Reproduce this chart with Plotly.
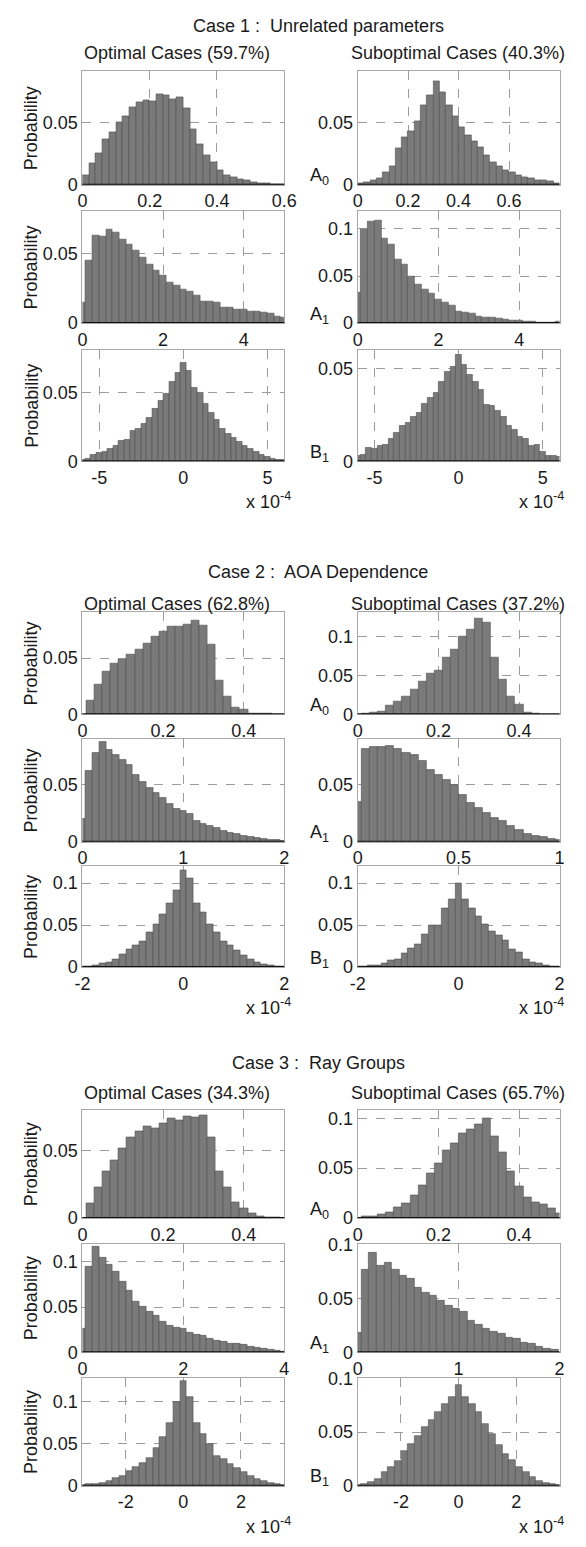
import plotly.graph_objects as go

W, H = 586, 1547

# ---------------- data ----------------
case_titles = ["Case 1 :\u00a0 Unrelated parameters",
               "Case 2 :\u00a0 AOA Dependence",
               "Case 3 :\u00a0 Ray Groups"]
col_titles = [["Optimal Cases (59.7%)", "Suboptimal Cases (40.3%)"],
              ["Optimal Cases (62.8%)", "Suboptimal Cases (37.2%)"],
              ["Optimal Cases (34.3%)", "Suboptimal Cases (65.7%)"]]
param_labels = ["A<sub>0</sub>", "A<sub>1</sub>", "B<sub>1</sub>"]
y_label = "Probability"
scale_label = "x 10<sup>-4</sup>"

# Case 1
c1_opt_a0 = [0.008, 0.0176, 0.0255, 0.0367, 0.042, 0.050, 0.055, 0.0625, 0.066, 0.068,
             0.067, 0.0726, 0.072, 0.0686, 0.070, 0.061, 0.0447, 0.0327, 0.0234, 0.018,
             0.012, 0.0074, 0.006, 0.0048, 0.0035, 0.0024, 0.0016, 0.0013, 0.0008, 0.0005]
c1_sub_a0 = [0.001, 0.002, 0.004, 0.0055, 0.010, 0.015, 0.029, 0.038, 0.043, 0.051,
             0.064, 0.072, 0.083, 0.074, 0.064, 0.055, 0.046, 0.040, 0.035, 0.030,
             0.024, 0.018, 0.015, 0.012, 0.010, 0.008, 0.006, 0.005, 0.004, 0.004,
             0.003, 0.0015]
c1_opt_a1 = [0.015, 0.045, 0.063, 0.062, 0.067, 0.065, 0.060, 0.056, 0.052, 0.047,
             0.042, 0.038, 0.034, 0.029, 0.027, 0.024, 0.0225, 0.020, 0.0155, 0.0155,
             0.015, 0.0114, 0.0114, 0.010, 0.0097, 0.008, 0.0083, 0.0078, 0.0066, 0.005,
             0.0043]
c1_sub_a1 = [0.033, 0.100, 0.108, 0.109, 0.0895, 0.0835, 0.068, 0.0625, 0.050, 0.041,
             0.036, 0.032, 0.0256, 0.022, 0.0186, 0.0123, 0.011, 0.0098, 0.0074, 0.0063,
             0.0056, 0.0046, 0.0039, 0.0032, 0.0025, 0.002, 0.002, 0.001, 0.0008, 0.001,
             0.0014]
c1_opt_b1 = [0.0015, 0.002, 0.005, 0.006, 0.007, 0.009, 0.011, 0.015, 0.0156, 0.022,
             0.024, 0.027, 0.0315, 0.038, 0.044, 0.049, 0.058, 0.064, 0.0716, 0.0656,
             0.0536, 0.050, 0.0416, 0.0356, 0.030, 0.024, 0.020, 0.017, 0.014, 0.011,
             0.009, 0.0067, 0.0045, 0.003, 0.002, 0.0015, 0.0015]
c1_sub_b1 = [0.003, 0.0035, 0.0074, 0.0066, 0.0085, 0.009, 0.0124, 0.0152, 0.019, 0.021,
             0.024, 0.026, 0.031, 0.034, 0.037, 0.043, 0.048, 0.051, 0.0574, 0.0518,
             0.0465, 0.043, 0.0385, 0.0306, 0.030, 0.027, 0.024, 0.019, 0.017, 0.013,
             0.012, 0.0083, 0.009, 0.005, 0.003, 0.0028, 0.0025]
# Case 2
c2_opt_a0 = [0.012, 0.0266, 0.038, 0.0453, 0.049, 0.0535, 0.0573, 0.0629, 0.0696, 0.074,
             0.0784, 0.0778, 0.0798, 0.0833, 0.0792, 0.0617, 0.030, 0.0155, 0.006, 0.0038,
             0.001, 0.0006, 0.0006]
c2_sub_a0 = [0.0005, 0.002, 0.0038, 0.011, 0.017, 0.0225, 0.032, 0.0428, 0.052, 0.056,
             0.073, 0.083, 0.0996, 0.109, 0.123, 0.118, 0.073, 0.0445, 0.0225, 0.0127,
             0.0025, 0.0008]
c2_opt_a1 = [0.0197, 0.0616, 0.0775, 0.0876, 0.0804, 0.076, 0.0717, 0.0674, 0.0587, 0.052,
             0.0475, 0.043, 0.0385, 0.0327, 0.029, 0.027, 0.024, 0.018, 0.0153, 0.014,
             0.0116, 0.0095, 0.008, 0.0066, 0.0052, 0.004, 0.003, 0.0023, 0.0018, 0.0015,
             0.001]
c2_sub_a1 = [0.035, 0.081, 0.0827, 0.0833, 0.0839, 0.081, 0.0775, 0.0758, 0.0703, 0.063,
             0.0587, 0.0544, 0.050, 0.041, 0.034, 0.0298, 0.0254, 0.021, 0.018, 0.0139,
             0.0104, 0.0072, 0.0052, 0.0038, 0.0023, 0.0014]
c2_opt_b1 = [0.0008, 0.0012, 0.002, 0.0039, 0.0059, 0.0098, 0.0157, 0.0216, 0.0255, 0.031,
             0.041, 0.051, 0.0627, 0.0765, 0.091, 0.1149, 0.1059, 0.0765, 0.0647, 0.051,
             0.041, 0.031, 0.0255, 0.0196, 0.0137, 0.0098, 0.0059, 0.0031, 0.002, 0.0012,
             0.0008]
c2_sub_b1 = [0.0008, 0.0012, 0.002, 0.0024, 0.0039, 0.0078, 0.0098, 0.0165, 0.0224, 0.0275,
             0.039, 0.050, 0.050, 0.0694, 0.0804, 0.100, 0.0804, 0.0694, 0.0608, 0.051,
             0.0424, 0.038, 0.0314, 0.0216, 0.0176, 0.0098, 0.0059, 0.0039, 0.002, 0.0012,
             0.0008]
# Case 3
c3_opt_a0 = [0.0112, 0.0226, 0.0347, 0.0425, 0.0512, 0.0595, 0.0638, 0.0675, 0.0663, 0.070,
             0.074, 0.072, 0.0748, 0.0745, 0.076, 0.0595, 0.0347, 0.0226, 0.0117, 0.0068,
             0.0032, 0.0012, 0.0007, 0.0005]
c3_sub_a0 = [0.0016, 0.002, 0.0033, 0.006, 0.0102, 0.0148, 0.0227, 0.0332, 0.045, 0.0546,
             0.0674, 0.075, 0.0849, 0.0888, 0.0938, 0.1003, 0.0816, 0.0661, 0.047, 0.0322,
             0.0207, 0.0158, 0.0141, 0.0092, 0.0043]
c3_opt_a1 = [0.026, 0.095, 0.117, 0.104, 0.097, 0.089, 0.078, 0.068, 0.0555, 0.050,
             0.0446, 0.041, 0.0336, 0.029, 0.0274, 0.026, 0.0212, 0.020, 0.0183, 0.0153,
             0.0128, 0.0117, 0.0099, 0.0091, 0.008, 0.0066, 0.0055, 0.0044, 0.0029, 0.0018,
             0.0012]
c3_sub_a1 = [0.0184, 0.0766, 0.092, 0.0798, 0.0828, 0.0761, 0.0706, 0.068, 0.0595, 0.0552,
             0.0521, 0.0475, 0.043, 0.0405, 0.0374, 0.0291, 0.026, 0.0215, 0.019, 0.0169,
             0.0138, 0.0123, 0.0092, 0.0077, 0.0055, 0.0038, 0.002]
c3_opt_b1 = [0.0012, 0.0016, 0.002, 0.0031, 0.0059, 0.009, 0.0118, 0.0176, 0.0216, 0.0275,
             0.0333, 0.045, 0.058, 0.0745, 0.100, 0.124, 0.106, 0.0745, 0.061, 0.049,
             0.0353, 0.0314, 0.0255, 0.0208, 0.0157, 0.0118, 0.0078, 0.0059, 0.0031, 0.002,
             0.0012]
c3_sub_b1 = [0.001, 0.0016, 0.0038, 0.0063, 0.0125, 0.0172, 0.0234, 0.032, 0.039, 0.0463,
             0.0547, 0.061, 0.069, 0.0766, 0.083, 0.0938, 0.083, 0.076, 0.069, 0.058,
             0.048, 0.0375, 0.0297, 0.024, 0.0172, 0.0125, 0.0078, 0.004, 0.0025, 0.0016,
             0.001]

# bins: (first bin centre, bin width)
bins = {
    "c1_opt_a0": (0.01, 0.02), "c1_sub_a0": (0.0125, 0.025),
    "c1_opt_a1": (0.0, 1/6), "c1_sub_a1": (0.0, 1/6),
    "c1_opt_b1": (-6.0, 1/3), "c1_sub_b1": (-6.0, 1/3),
    "c2_opt_a0": (0.02, 0.02), "c2_sub_a0": (0.02, 0.02),
    "c2_opt_a1": (0.0, 1/15), "c2_sub_a1": (0.0, 0.04),
    "c2_opt_b1": (-2.0, 2/15), "c2_sub_b1": (-2.0, 2/15),
    "c3_opt_a0": (0.02, 0.02), "c3_sub_a0": (0.02, 0.02),
    "c3_opt_a1": (0.0, 2/15), "c3_sub_a1": (0.0, 0.075),
    "c3_opt_b1": (-3.5, 7/30), "c3_sub_b1": (-3.5, 7/30),
}
series = {
    "c1_opt_a0": c1_opt_a0, "c1_sub_a0": c1_sub_a0, "c1_opt_a1": c1_opt_a1,
    "c1_sub_a1": c1_sub_a1, "c1_opt_b1": c1_opt_b1, "c1_sub_b1": c1_sub_b1,
    "c2_opt_a0": c2_opt_a0, "c2_sub_a0": c2_sub_a0, "c2_opt_a1": c2_opt_a1,
    "c2_sub_a1": c2_sub_a1, "c2_opt_b1": c2_opt_b1, "c2_sub_b1": c2_sub_b1,
    "c3_opt_a0": c3_opt_a0, "c3_sub_a0": c3_sub_a0, "c3_opt_a1": c3_opt_a1,
    "c3_sub_a1": c3_sub_a1, "c3_opt_b1": c3_opt_b1, "c3_sub_b1": c3_sub_b1,
}
# axis ranges and ticks per panel
x_ranges = {
    "c1_opt_a0": [0, 0.6], "c1_sub_a0": [0, 0.8], "c1_opt_a1": [0, 5], "c1_sub_a1": [0, 5],
    "c1_opt_b1": [-6, 6], "c1_sub_b1": [-6, 6],
    "c2_opt_a0": [0, 0.5], "c2_sub_a0": [0, 0.5], "c2_opt_a1": [0, 2], "c2_sub_a1": [0, 1],
    "c2_opt_b1": [-2, 2], "c2_sub_b1": [-2, 2],
    "c3_opt_a0": [0, 0.5], "c3_sub_a0": [0, 0.5], "c3_opt_a1": [0, 4], "c3_sub_a1": [0, 2],
    "c3_opt_b1": [-3.5, 3.5], "c3_sub_b1": [-3.5, 3.5],
}
x_ticks = {
    "c1_opt_a0": [0, 0.2, 0.4, 0.6], "c1_sub_a0": [0, 0.2, 0.4, 0.6],
    "c1_opt_a1": [0, 2, 4], "c1_sub_a1": [0, 2, 4],
    "c1_opt_b1": [-5, 0, 5], "c1_sub_b1": [-5, 0, 5],
    "c2_opt_a0": [0, 0.2, 0.4], "c2_sub_a0": [0, 0.2, 0.4],
    "c2_opt_a1": [0, 1, 2], "c2_sub_a1": [0, 0.5, 1],
    "c2_opt_b1": [-2, 0, 2], "c2_sub_b1": [-2, 0, 2],
    "c3_opt_a0": [0, 0.2, 0.4], "c3_sub_a0": [0, 0.2, 0.4],
    "c3_opt_a1": [0, 2, 4], "c3_sub_a1": [0, 1, 2],
    "c3_opt_b1": [-2, 0, 2], "c3_sub_b1": [-2, 0, 2],
}
y_max = {
    "c1_opt_a0": 0.091, "c1_sub_a0": 0.091, "c1_opt_a1": 0.080, "c1_sub_a1": 0.1186,
    "c1_opt_b1": 0.081, "c1_sub_b1": 0.060,
    "c2_opt_a0": 0.0906, "c2_sub_a0": 0.131, "c2_opt_a1": 0.090, "c2_sub_a1": 0.090,
    "c2_opt_b1": 0.120, "c2_sub_b1": 0.120,
    "c3_opt_a0": 0.0796, "c3_sub_a0": 0.108, "c3_opt_a1": 0.120, "c3_sub_a1": 0.1005,
    "c3_opt_b1": 0.128, "c3_sub_b1": 0.1005,
}
y_tick_vals = [0, 0.05, 0.1]
y_tick_text = ["0", "0.05", "0.1"]

# ---------------- layout geometry (pixels) ----------------
col_px = [(77, 286), (362, 571)]
row_px = [[(63, 178), (205, 318), (345, 458)],
          [(611, 714), (739, 843), (868, 970)],
          [(1115, 1224), (1250, 1360), (1386, 1495)]]
case_title_y = [17, 570, 1067]
col_title_y = [45, 602, 1097]

FONT = "Liberation Sans, Arial, sans-serif"
TXT = "#1a1a1a"
BAR = "#7a7a7a"
EDGE = "#4e4e4e"
GRID = "#9c9c9c"
FRAME = "#a8a8a8"

def px_x(v):
    return v / W

def px_y(v):
    return 1 - v / H

def fmt(v):
    s = ("%g" % v)
    return s

fig = go.Figure()
layout = dict(
    width=W, height=H, margin=dict(l=0, r=0, t=0, b=0),
    paper_bgcolor="white", plot_bgcolor="white", showlegend=False,
    font=dict(family=FONT, size=18, color=TXT),
)
annotations = []
shapes = []
params = ["a0", "a1", "b1"]
cols = ["opt", "sub"]

idx = 0
for c in range(3):
    for r in range(3):
        for k in range(2):
            idx += 1
            key = "c%d_%s_%s" % (c + 1, cols[k], params[r])
            vals = series[key]
            x0, w = bins[key]
            xs = [x0 + i * w for i in range(len(vals))]
            xa = "x" if idx == 1 else "x%d" % idx
            ya = "y" if idx == 1 else "y%d" % idx
            fig.add_trace(go.Bar(
                x=xs, y=vals, width=w, xaxis=xa, yaxis=ya,
                marker=dict(color=BAR, line=dict(color=EDGE, width=0.6)),
                hoverinfo="skip",
            ))
            xl, xr = col_px[k]
            yt, yb = row_px[c][r]
            xr_rng = x_ranges[key]
            span = xr_rng[1] - xr_rng[0]
            ymx = y_max[key]
            tv = [t for t in y_tick_vals if t <= ymx + 1e-9]
            tt = y_tick_text[:len(tv)]
            xt = x_ticks[key]
            layout["xaxis" if idx == 1 else "xaxis%d" % idx] = dict(
                domain=[px_x(xl), px_x(xr)], anchor=ya,
                range=[xr_rng[0] - span * 1e-4, xr_rng[1] + span * 1e-4],
                tickvals=xt, ticktext=[fmt(t) for t in xt],
                showgrid=True, gridcolor=GRID, griddash="dash", gridwidth=1,
                showline=True, linecolor=FRAME, linewidth=1, mirror=True,
                zeroline=False, ticks="", tickfont=dict(size=18, color=TXT),
            )
            layout["yaxis" if idx == 1 else "yaxis%d" % idx] = dict(
                domain=[px_y(yb), px_y(yt)], anchor=xa,
                range=[0, ymx],
                tickvals=tv, ticktext=tt,
                showgrid=True, gridcolor=GRID, griddash="dash", gridwidth=1,
                showline=True, linecolor=FRAME, linewidth=1, mirror=True,
                zeroline=False, ticks="", tickfont=dict(size=18, color=TXT),
            )
            # black baseline of histogram
            shapes.append(dict(type="line", xref=xa + " domain", yref=ya,
                               x0=0, x1=1, y0=0, y1=0, layer="above",
                               line=dict(color="#111111", width=2)))
            if k == 0:
                annotations.append(dict(
                    text=y_label, x=px_x(24), y=px_y((yt + yb) / 2),
                    xref="paper", yref="paper", textangle=-90, showarrow=False,
                    xanchor="center", yanchor="middle", font=dict(size=18, color=TXT)))
            else:
                annotations.append(dict(
                    text=param_labels[r], x=px_x(311), y=px_y(yb - 8),
                    xref="paper", yref="paper", showarrow=False,
                    xanchor="left", yanchor="middle", font=dict(size=18, color=TXT)))
            if r == 2:
                annotations.append(dict(
                    text=scale_label, x=px_x(244 if k == 0 else 527), y=px_y(yb + 40),
                    xref="paper", yref="paper", showarrow=False,
                    xanchor="left", yanchor="middle", font=dict(size=18, color=TXT)))
    annotations.append(dict(
        text=case_titles[c], x=px_x(321), y=px_y(case_title_y[c]),
        xref="paper", yref="paper", showarrow=False,
        xanchor="center", yanchor="middle", font=dict(size=18, color=TXT)))
    for k, cx in enumerate([175, 466]):
        annotations.append(dict(
            text=col_titles[c][k], x=px_x(cx), y=px_y(col_title_y[c]),
            xref="paper", yref="paper", showarrow=False,
            xanchor="center", yanchor="middle", font=dict(size=18, color=TXT)))

layout["annotations"] = annotations
layout["shapes"] = shapes
layout["bargap"] = 0
fig.update_layout(**layout)
fig.write_html("out.html")
